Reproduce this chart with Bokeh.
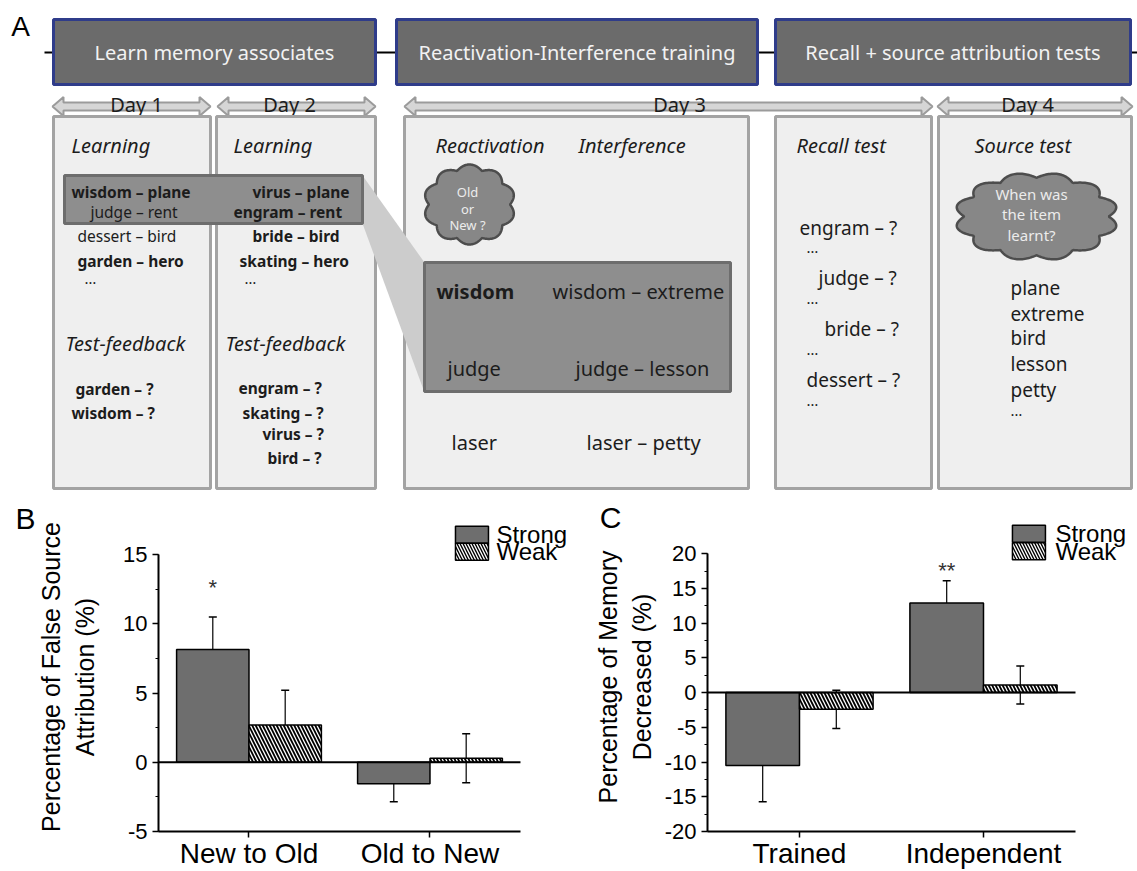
import numpy as np
from bokeh.plotting import figure
from bokeh.layouts import column, row
from bokeh.models import (Range1d, FixedTicker, SingleIntervalTicker, Whisker,
                          ColumnDataSource, TeeHead)
from bokeh.core.properties import value
from bokeh.embed import file_html
from bokeh.resources import INLINE

# ---------------- data: panels B and C ----------------
series_names = ["Strong", "Weak"]

B_categories = ["New to Old", "Old to New"]
B_strong = [8.15, -1.55]
B_strong_err = [2.35, 1.3]
B_weak = [2.7, 0.3]
B_weak_err = [2.5, 1.77]
B_sig = ["*"]
B_sig_x = [0.8]
B_sig_y = [13.1]
B_yticks = [-5, 0, 5, 10, 15]
B_ylabel = "Percentage of False Source\nAttribution (%)"

C_categories = ["Trained", "Independent"]
C_strong = [-10.5, 12.9]
C_strong_err = [5.2, 3.2]
C_weak = [-2.4, 1.1]
C_weak_err = [2.75, 2.75]
C_sig = ["**"]
C_sig_x = [1.8]
C_sig_y = [18.4]
C_yticks = [-20, -15, -10, -5, 0, 5, 10, 15, 20]
C_ylabel = "Percentage of Memory\nDecreased (%)"

# ---------------- text content: panel A ----------------
stage_titles = ["Learn memory associates", "Reactivation-Interference training",
                "Recall + source attribution tests"]
day_labels = ["Day 1", "Day 2", "Day 3", "Day 4"]
headings = ["Learning", "Learning", "Reactivation", "Interference", "Recall test",
            "Source test", "Test-feedback", "Test-feedback"]
day1_pairs = ["wisdom – plane", "judge – rent", "dessert – bird", "garden – hero"]
day1_bold = [True, False, False, True]
day2_pairs = ["virus – plane", "engram – rent", "bride – bird", "skating – hero"]
day1_tests = ["garden – ?", "wisdom – ?"]
day2_tests = ["engram – ?", "skating – ?", "virus – ?", "bird – ?"]
reac_cues = ["wisdom", "judge", "laser"]
interf_pairs = ["wisdom – extreme", "judge – lesson", "laser – petty"]
recall_items = ["engram – ?", "judge – ?", "bride – ?", "dessert – ?"]
source_items = ["plane", "extreme", "bird", "lesson", "petty"]
cloud1_text = ["Old", "or", "New ?"]
cloud2_text = ["When was", "the item", "learnt?"]

FONT = "Noto Sans"
ARIAL = "Liberation Sans"
DARK = "#1c1c1c"

A_H = 492
# ================= Panel A (schematic) =================
pa = figure(width=1137, height=A_H, x_range=Range1d(0, 1137), y_range=Range1d(A_H, 0),
            x_axis_type=None, y_axis_type=None, output_backend="svg",
            toolbar_location=None, min_border=0, outline_line_color=None)
pa.grid.visible = False


def txt(p, xs, ys, texts, size, style="normal", color=DARK, align="left", font=FONT):
    p.text(x=list(xs), y=list(ys), text=list(texts), text_font=value(font),
           text_font_size=size, text_font_style=style, text_color=color,
           text_align=align, text_baseline="middle")


def arrow_poly(x0, x1, yc, sh=4.0, hh=9.5, hl=11):
    xs = [x0, x0 + hl, x0 + hl, x1 - hl, x1 - hl, x1, x1 - hl, x1 - hl, x0 + hl, x0 + hl]
    ys = [yc, yc - hh, yc - sh, yc - sh, yc - hh, yc, yc + hh, yc + sh, yc + sh, yc + hh]
    return xs, ys


def cloud_poly(cx, cy, hw, hh, n):
    t = np.linspace(0, 2 * np.pi, 400)
    f = 0.88 + 0.12 * np.abs(np.sin(n * t / 2))
    return list(cx + hw * f * np.cos(t)), list(cy + hh * f * np.sin(t))


# timeline
pa.line(x=[44, 1137], y=[52, 52], line_color="black", line_width=2)
# stage header boxes
hl_ = [53, 396, 775]
hr_ = [375, 757, 1130]
pa.quad(left=hl_, right=hr_, top=19, bottom=84, fill_color="#6b6b6b",
        line_color="#2f3c8a", line_width=3)
txt(pa, [(a + b) / 2 for a, b in zip(hl_, hr_)], [52] * 3, stage_titles, "20px",
    color="#f2f2f2", align="center")

# day arrows
arr = [(52, 210), (217, 375), (404, 932), (937, 1132)]
axs, ays = [], []
for a, b in arr:
    xx, yy = arrow_poly(a, b, 106)
    axs.append(xx)
    ays.append(yy)
pa.patches(xs=axs, ys=ays, fill_color="#d6d6d6", line_color="#9b9b9b", line_width=2)
txt(pa, [136, 289, 679, 1027], [104] * 4, day_labels, "20px", align="center")

# panels
pl = [53, 216, 404, 775, 938]
pr = [210, 375, 748, 931, 1131]
pa.quad(left=pl, right=pr, top=116, bottom=488, fill_color="#efefef",
        line_color="#a3a3a3", line_width=3)

# magnifier
pa.patch(x=[362, 424, 424, 362], y=[175, 262, 392, 223], fill_color="#cccccc",
         line_color=None)
# highlight boxes
pa.quad(left=[64, 424], right=[362, 730], top=[175, 262], bottom=[223, 391],
        fill_color="#8e8e8e", line_color="#6d6d6d", line_width=3)

# clouds
c1x, c1y = cloud_poly(469, 204, 46, 40, 10)
c2x, c2y = cloud_poly(1036, 216, 82, 44, 12)
pa.patches(xs=[c1x, c2x], ys=[c1y, c2y], fill_color="#878787", line_color="#4d4d4d",
           line_width=2.5)
txt(pa, [467] * 3, [191, 208, 224], cloud1_text, "13px", color="#ececec", align="center")
txt(pa, [1031] * 3, [193, 213, 234], cloud2_text, "15px", color="#ececec", align="center")

# headings
txt(pa, [71, 233, 435, 578, 796, 974, 65, 225],
    [145, 145, 145, 145, 145, 145, 343, 343], headings, "20px", style="italic")

# day 1 / day 2 learning pairs
d1x = [71, 90, 77, 77]
d1y = [191, 211, 235, 260]
for x, y, t, b in zip(d1x, d1y, day1_pairs, day1_bold):
    txt(pa, [x], [y], [t], "15.5px", style="bold" if b else "normal")
txt(pa, [252, 233, 252, 239], [191, 211, 235, 260], day2_pairs, "15.5px", style="bold")
txt(pa, [84, 244], [277, 277], ["…", "…"], "15px")
# test-feedback
txt(pa, [75, 71], [388, 412], day1_tests, "15.5px", style="bold")
txt(pa, [238, 242, 262, 267], [387, 412, 433, 457], day2_tests, "15.5px", style="bold")

# reactivation / interference
txt(pa, [436], [291], reac_cues[:1], "20px", style="bold")
txt(pa, [447, 451], [368, 442], reac_cues[1:], "20px")
txt(pa, [552, 575, 586], [291, 368, 442], interf_pairs, "20px")

# recall test
txt(pa, [799, 818, 824, 806], [227, 277, 328, 379], recall_items, "19px")
txt(pa, [806] * 4, [246, 297, 348, 399], ["…"] * 4, "15px")
# source test
txt(pa, [1010] * 5, [287, 313, 337, 363, 389], source_items, "19px")
txt(pa, [1010], [409], ["…"], "15px")

# panel letter A
txt(pa, [20], [26], ["A"], "28px", align="center", font=ARIAL, color="black")


# ================= Panels B and C =================
def bar_panel(width, left_px, right_px, xr, yr, ybounds, yticks, cats, strong, s_err,
              weak, w_err, sig, sig_x, sig_y, ylabel, label_standoff, leg_x, leg_y,
              leg_tx, letter, letter_xy):
    p = figure(width=width, height=871 - A_H, x_range=Range1d(*xr), y_range=Range1d(*yr),
               output_backend="svg", toolbar_location=None,
               min_border_left=left_px, min_border_right=right_px,
               min_border_top=30, min_border_bottom=40, outline_line_color=None)
    p.grid.visible = False
    centers = [i + 1 for i in range(len(cats))]
    xs_s = [c - 0.2 for c in centers]
    xs_w = [c + 0.2 for c in centers]
    p.vbar(x=xs_s, top=strong, bottom=0, width=0.4, fill_color="#6e6e6e",
           line_color="black", line_width=1.5)
    p.vbar(x=xs_w, top=weak, bottom=0, width=0.4, fill_color="white",
           hatch_pattern="left_diagonal_line", hatch_color="black", hatch_weight=1.8,
           hatch_scale=7, line_color="black", line_width=1.5)
    # zero line
    p.segment(x0=[0.5], y0=[0], x1=[len(cats) + 0.5], y1=[0], line_color="black",
              line_width=2)
    for xs, v, e in ((xs_s, strong, s_err), (xs_w, weak, w_err)):
        src = ColumnDataSource(dict(x=xs, upper=[a + b for a, b in zip(v, e)],
                                    lower=[a - b for a, b in zip(v, e)]))
        p.add_layout(Whisker(source=src, base="x", upper="upper", lower="lower",
                             line_color="black", line_width=1.2,
                             upper_head=TeeHead(size=8, line_width=1.5, line_color="black"),
                             lower_head=TeeHead(size=8, line_width=1.5, line_color="black")))
    p.text(x=sig_x, y=sig_y, text=sig, text_font=value(ARIAL), text_font_size="22px",
           text_color="#333333", text_align="center", text_baseline="middle", y_offset=6)
    # legend
    p.rect(x=[leg_x], y=[leg_y[0]], width=33, height=17, width_units="screen",
           height_units="screen", fill_color="#6e6e6e", line_color="black", line_width=1.5)
    p.rect(x=[leg_x], y=[leg_y[1]], width=33, height=17, width_units="screen",
           height_units="screen", fill_color="white", hatch_pattern="left_diagonal_line",
           hatch_color="black", hatch_weight=1.4, hatch_scale=6, line_color="black",
           line_width=1.5)
    p.text(x=[leg_tx, leg_tx], y=leg_y, text=series_names, text_font=value(ARIAL),
           text_font_size="24px", text_color="black", text_align="left",
           text_baseline="middle")
    # axes
    xa = p.xaxis[0]
    xa.ticker = FixedTicker(ticks=centers)
    xa.major_label_overrides = {c: n for c, n in zip(centers, cats)}
    xa.bounds = (0.5, len(cats) + 0.5)
    xa.axis_line_width = 2
    xa.major_tick_out = 6
    xa.major_tick_in = 0
    xa.major_tick_line_width = 1.5
    xa.minor_tick_line_color = None
    xa.major_label_standoff = 0
    xa.major_label_text_font = ARIAL
    xa.major_label_text_font_size = "28px"
    xa.major_label_text_color = "black"
    ya = p.yaxis[0]
    ya.ticker = SingleIntervalTicker(interval=5, num_minor_ticks=2)
    ya.major_label_overrides = {t: str(t) for t in yticks}
    ya.bounds = ybounds
    ya.axis_line_width = 2
    ya.major_tick_out = 6
    ya.major_tick_in = 0
    ya.minor_tick_out = 3
    ya.minor_tick_in = 0
    ya.major_tick_line_width = 1.5
    ya.minor_tick_line_width = 1.2
    ya.major_label_standoff = 5
    ya.major_label_text_font = ARIAL
    ya.major_label_text_font_size = "22px"
    ya.major_label_text_color = "black"
    ya.axis_label = ylabel
    ya.axis_label_text_font = ARIAL
    ya.axis_label_text_font_size = "25px"
    ya.axis_label_text_font_style = "normal"
    ya.axis_label_text_color = "black"
    ya.axis_label_standoff = label_standoff
    # panel letter (drawn above the frame, unclipped)
    p.text(x=[letter_xy[0]], y=[letter_xy[1]], text=[letter], text_font=value(ARIAL),
           text_font_size="30px", text_align="center", text_baseline="middle",
           text_color="black", level="overlay")
    return p


pb = bar_panel(578, 158, 3, (0.5, 2.804), (-5, 17.33), (-5, 15), B_yticks, B_categories,
               B_strong, B_strong_err, B_weak, B_weak_err, B_sig, B_sig_x, B_sig_y,
               B_ylabel, 21, 2.232, [16.44, 15.21], 2.367, "B", (-0.235, 17.63))
pc = bar_panel(559, 129, 0, (0.5, 2.837), (-20, 24.5), (-20, 20), C_yticks, C_categories,
               C_strong, C_strong_err, C_weak, C_weak_err, C_sig, C_sig_x, C_sig_y,
               C_ylabel, 6, 2.247, [22.87, 20.35], 2.391, "C", (-0.027, 25.17))

layout = column(pa, row(pb, pc))
open("out.html", "w").write(file_html(layout, INLINE))
